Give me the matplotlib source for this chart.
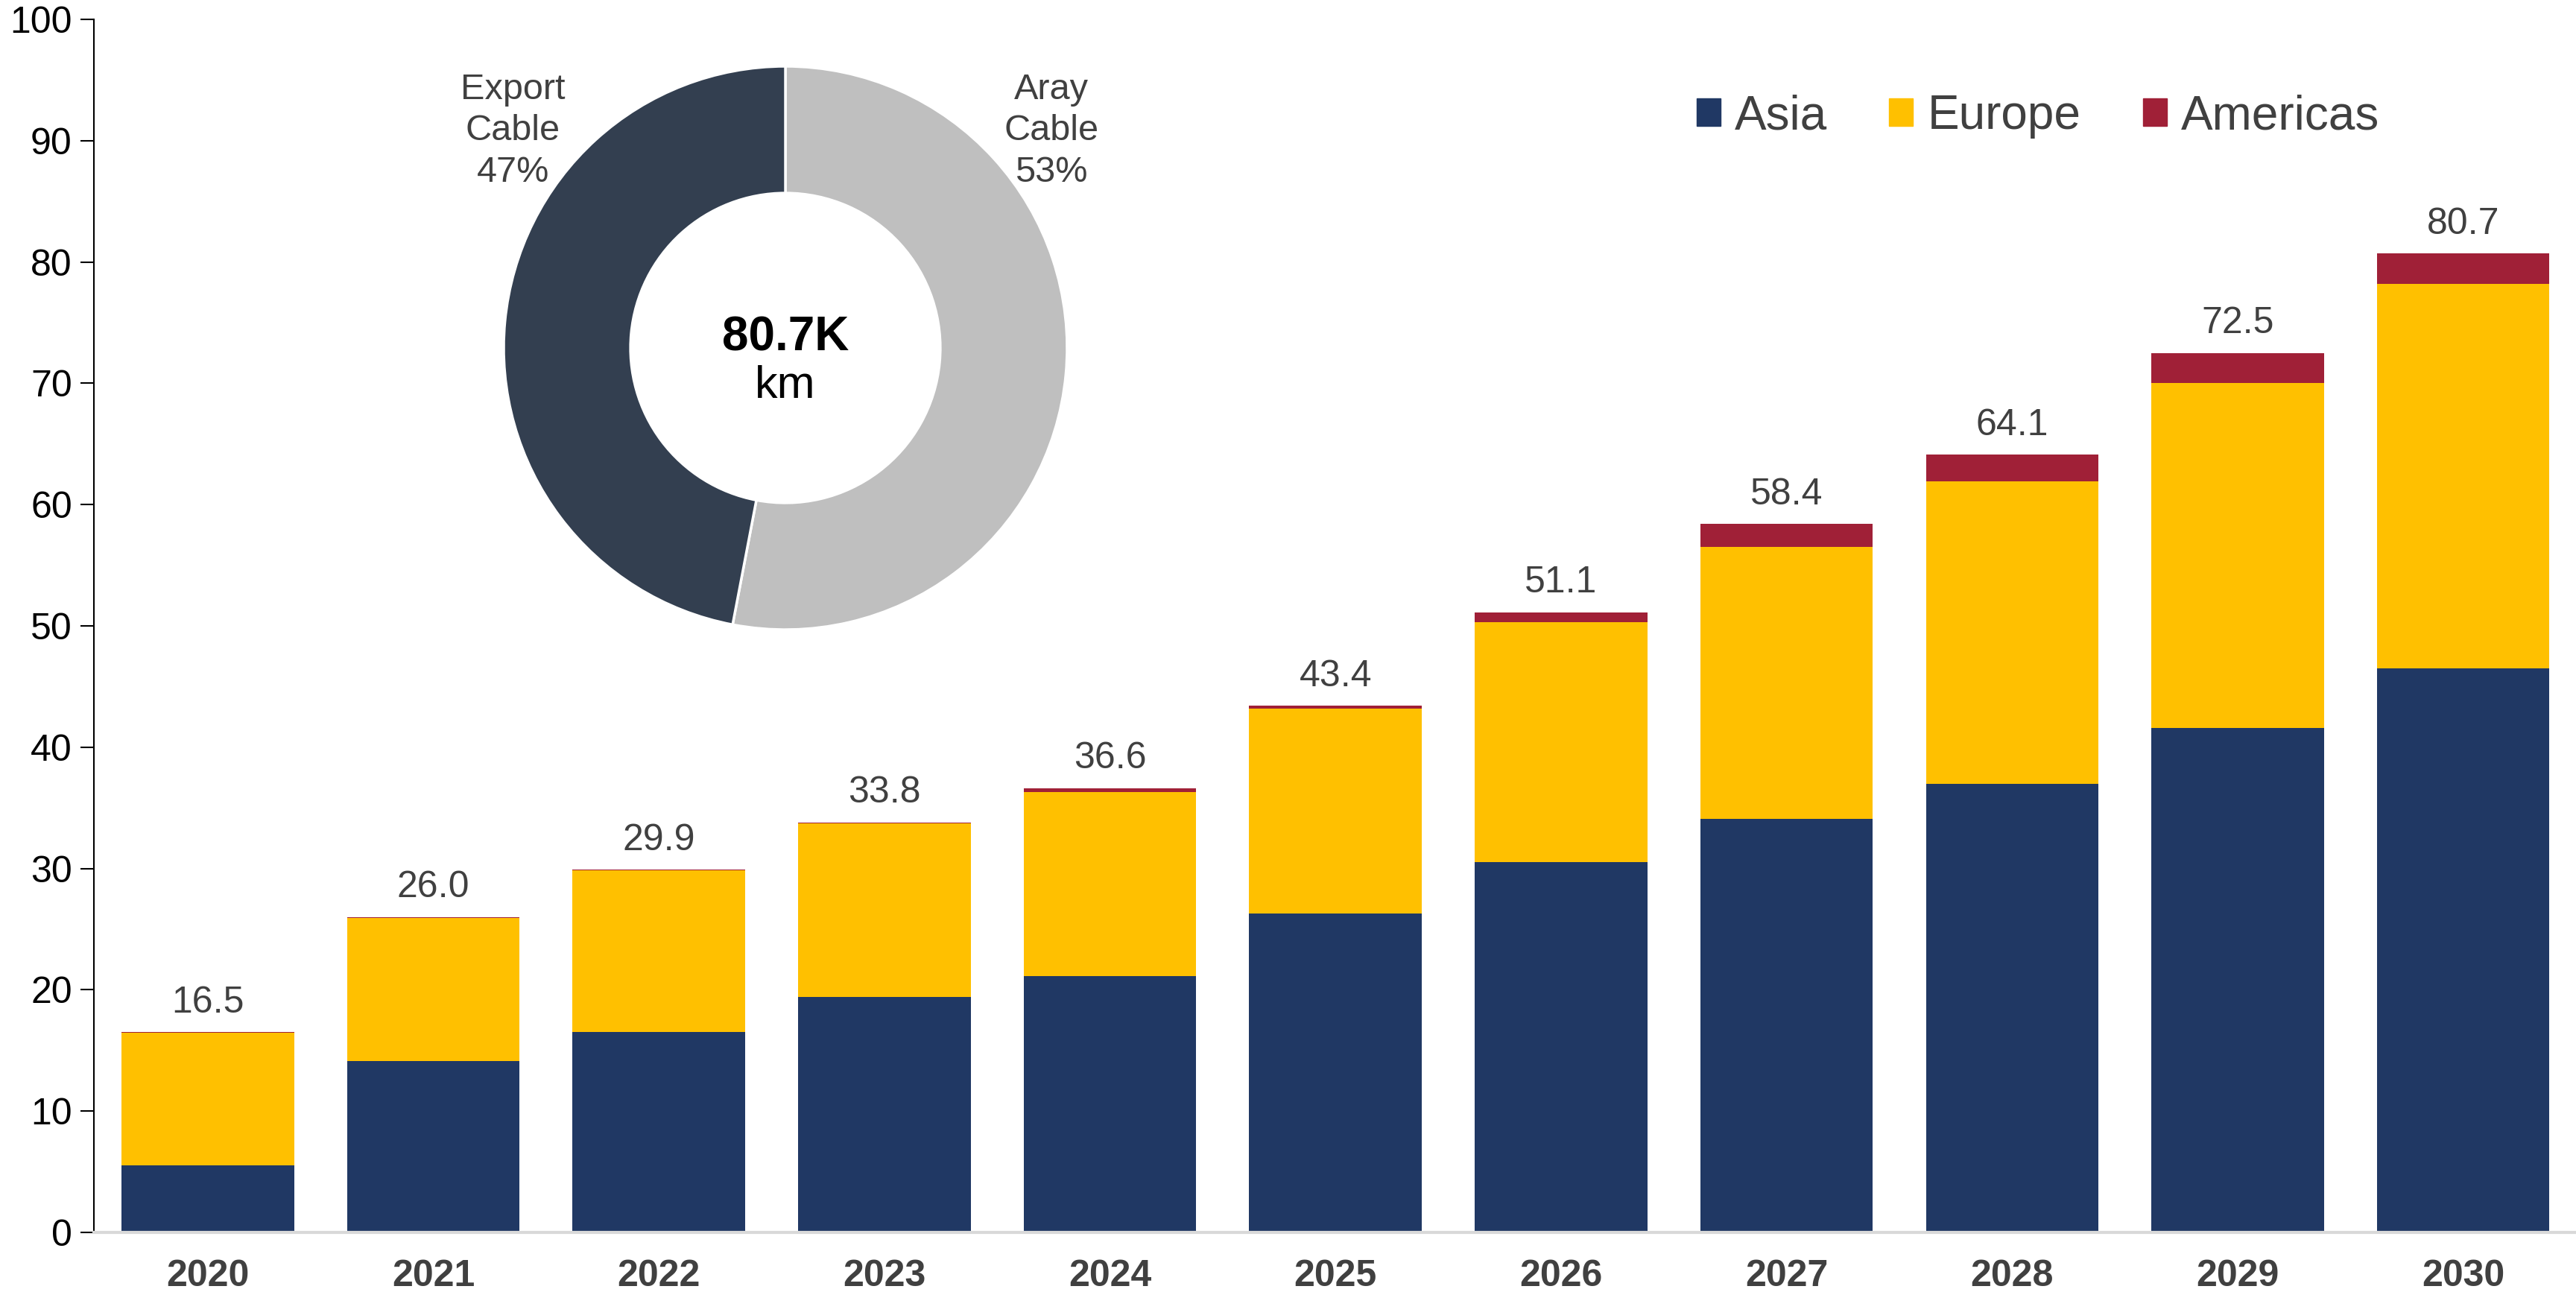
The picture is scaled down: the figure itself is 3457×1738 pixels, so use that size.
import numpy as np
import matplotlib.pyplot as plt
from matplotlib.patches import Patch

plt.rcParams['font.family'] = ['Liberation Sans', 'DejaVu Sans']

years = ['2020', '2021', '2022', '2023', '2024', '2025', '2026', '2027', '2028', '2029', '2030']
asia = [5.5, 14.1, 16.5, 19.4, 21.1, 26.3, 30.5, 34.1, 37.0, 41.6, 46.5]
europe = [10.95, 11.85, 13.35, 14.3, 15.2, 16.9, 19.8, 22.4, 24.9, 28.4, 31.7]
americas = [0.05, 0.05, 0.05, 0.1, 0.3, 0.2, 0.8, 1.9, 2.2, 2.5, 2.5]
totals = [16.5, 26.0, 29.9, 33.8, 36.6, 43.4, 51.1, 58.4, 64.1, 72.5, 80.7]

cable_labels = ['Aray\nCable\n53%', 'Export\nCable\n47%']
cable_share = [53, 47]
donut_total = '80.7K'
donut_unit = 'km'

c_asia = '#203864'
c_europe = '#FFC000'
c_americas = '#A02037'
c_text = '#404040'

W, H = 3457, 1738
fig = plt.figure(figsize=(W / 100, H / 100), dpi=100)
ax = fig.add_axes([126 / W, (H - 1654) / H, (W - 126) / W, (1654 - 26) / H])

x = np.arange(len(years))
bw = 0.765
bottom2 = np.array(asia) + np.array(europe)
ax.bar(x, asia, bw, color=c_asia, label='Asia')
ax.bar(x, europe, bw, bottom=asia, color=c_europe, label='Europe')
top = ax.bar(x, americas, bw, bottom=bottom2, color=c_americas, label='Americas')
ax.bar_label(top, labels=['%.1f' % t for t in totals], padding=12,
             fontsize=36, color=c_text)

ax.set_xlim(-0.505, 10.5)
ax.set_ylim(0, 100)
ax.set_yticks(np.arange(0, 101, 10))
ax.set_xticks(x)
ax.set_xticklabels(years, fontsize=36, fontweight='bold', color=c_text)
ax.tick_params(axis='x', length=0, pad=26)
ax.tick_params(axis='y', labelsize=36, length=13, width=1.5, pad=8, colors='black')
for s in ['top', 'right']:
    ax.spines[s].set_visible(False)
ax.spines['left'].set_linewidth(1.5)
ax.spines['bottom'].set_color('#D9D9D9')
ax.spines['bottom'].set_linewidth(3)

handles = [Patch(color=c_asia), Patch(color=c_europe), Patch(color=c_americas)]
leg = fig.legend(handles, ['Asia', 'Europe', 'Americas'], loc='center',
                 bbox_to_anchor=(2735 / W, 1 - 156 / H), ncol=3, frameon=False,
                 fontsize=46, handlelength=0.5, handleheight=0.5,
                 handletextpad=0.3, columnspacing=1.3)
for t in leg.get_texts():
    t.set_color(c_text)

# donut
cx, cy, r = 1054, 467, 378
dax = fig.add_axes([(cx - r) / W, (H - cy - r) / H, 2 * r / W, 2 * r / H])
dax.pie(cable_share, colors=['#BFBFBF', '#333F50'], startangle=90, counterclock=False,
        radius=1, wedgeprops=dict(width=0.45, edgecolor='white', linewidth=2.5))
dax.set_xlim(-1, 1)
dax.set_ylim(-1, 1)
dax.set_aspect('equal')
dax.text(0.944, 0.77, cable_labels[0], ha='center', va='center', fontsize=35,
         color=c_text, linespacing=1.3)
dax.text(-0.968, 0.77, cable_labels[1], ha='center', va='center', fontsize=35,
         color=c_text, linespacing=1.3)
dax.text(0, -0.01, donut_total, ha='center', va='baseline', fontsize=46, fontweight='bold')
dax.text(0, -0.06, donut_unit, ha='center', va='top', fontsize=44)

fig.savefig('out.png', dpi=100)
